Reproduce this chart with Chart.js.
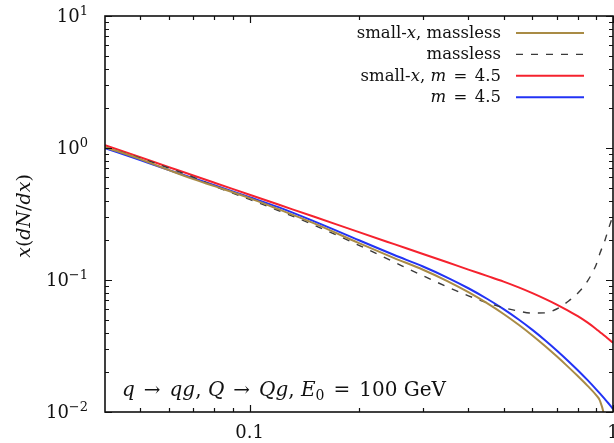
<!DOCTYPE html>
<html>
<head>
<meta charset="utf-8">
<script src="https://cdn.jsdelivr.net/npm/chart.js@4"></script>
<style>
  html, body { margin: 0; padding: 0; background: #fff; }
  #wrap { width: 614px; height: 443px; }
</style>
</head>
<body>
<div id="wrap"><canvas id="chart" width="614" height="443"></canvas></div>
<script>
// values (log-log axes)
const xValues = [0.04, 0.05, 0.06, 0.07, 0.08, 0.1, 0.12, 0.15, 0.2, 0.25, 0.3, 0.35, 0.4, 0.45, 0.5, 0.55, 0.6, 0.65, 0.7, 0.75, 0.8, 0.85, 0.9, 0.92, 0.95, 0.97, 1.0];
const smallXMassless = [1.016, 0.824, 0.680, 0.581, 0.514, 0.417, 0.344, 0.2695, 0.1901, 0.1466, 0.1196, 0.0982, 0.0809, 0.0668, 0.0553, 0.0458, 0.0380, 0.0316, 0.0264, 0.02217, 0.01872, 0.01585, 0.01335, 0.01222, 0.0087, 0.005, 0.001];
const massless = [1.016, 0.838, 0.704, 0.602, 0.514, 0.408, 0.336, 0.2615, 0.183, 0.1365, 0.1076, 0.0887, 0.0759, 0.0673, 0.0617, 0.0581, 0.0562, 0.0564, 0.0603, 0.0684, 0.0794, 0.0977, 0.1318, 0.1585, 0.1995, 0.240, 0.309];
const smallXMass = [1.048, 0.850, 0.715, 0.619, 0.546, 0.4425, 0.3728, 0.3024, 0.2303, 0.1868, 0.1575, 0.1362, 0.1199, 0.1074, 0.0973, 0.0880, 0.0796, 0.0720, 0.0652, 0.0589, 0.0532, 0.0477, 0.0424, 0.0404, 0.0377, 0.0359, 0.0334];
const massive = [0.998, 0.810, 0.680, 0.591, 0.523, 0.4243, 0.3563, 0.2791, 0.2002, 0.1547, 0.1266, 0.1044, 0.0866, 0.0721, 0.0602, 0.0502, 0.0419, 0.0350, 0.02927, 0.0246, 0.02073, 0.0175, 0.01479, 0.01382, 0.0125, 0.0117, 0.01055];

// legend text, split in roman ('r') and italic math ('i') pieces
const seriesLabels = [
  [['small-', 'r'], ['x', 'i'], [', massless', 'r']],
  [['massless', 'r']],
  [['small-', 'r'], ['x', 'i'], [', ', 'r'], ['m', 'i'], ['=', 'op'], ['4.5', 'r']],
  [['m', 'i'], ['=', 'op'], ['4.5', 'r']]
];
const annotation = [['q', 'i'], ['\u2192', 'op'], ['qg', 'i'], [', ', 'r'], ['Q', 'i'], ['\u2192', 'op'], ['Qg', 'i'], [', ', 'r'], ['E', 'i'], ['0', 'sub'], ['=', 'op'], ['100 GeV', 'r']];
const yTitle = [['x', 'i'], ['(', 'r'], ['dN', 'i'], ['/', 'r'], ['dx', 'i'], [')', 'r']];

// axis ticks
const xMin = 0.04, xMax = 1;
const yMin = 0.01, yMax = 10;
const xMajorTicks = [0.1, 1];
const xTickLabels = ['0.1', '1'];
const xMinorTicks = [0.05, 0.06, 0.07, 0.08, 0.09, 0.2, 0.3, 0.4, 0.5, 0.6, 0.7, 0.8, 0.9];
const yMajorTicks = [0.01, 0.1, 1, 10];
const yTickExponents = ['\u22122', '\u22121', '0', '1'];
const yMinorMantissas = [2, 3, 4, 5, 6, 7, 8, 9];

const serif = '"DejaVu Serif", "Liberation Serif", serif';

function fontOf(style, size) {
  return (style === 'i' ? 'italic ' : '') + size + 'px ' + serif;
}

// draws a line of mixed roman / italic / sub / sup pieces; 'op' gets math spacing
function drawRich(ctx, parts, x, y, align, size) {
  const items = parts.map(([text, style]) => {
    const s = (style === 'sup' || style === 'sub') ? Math.round(size * 0.7) : size;
    ctx.font = fontOf(style, s);
    const pad = style === 'op' ? size * 0.45 : 0;
    return { text, style, s, pad, w: ctx.measureText(text).width + 2 * pad };
  });
  const total = items.reduce((a, it) => a + it.w, 0);
  let cx = align === 'right' ? x - total : align === 'center' ? x - total / 2 : x;
  for (const it of items) {
    ctx.font = fontOf(it.style, it.s);
    const dy = it.style === 'sup' ? -size * 0.4 : it.style === 'sub' ? size * 0.22 : 0;
    ctx.fillText(it.text, cx + it.pad, y + dy);
    cx += it.w;
  }
}

const framePlugin = {
  id: 'frame',
  afterDraw(chart) {
    const { ctx, chartArea: a, scales: { x, y } } = chart;
    ctx.save();
    ctx.strokeStyle = '#111';
    ctx.fillStyle = '#111';
    ctx.textAlign = 'left';
    ctx.textBaseline = 'alphabetic';

    // inward ticks on all four sides
    ctx.lineWidth = 1.2;
    const xTick = (v, len) => {
      const px = Math.round(x.getPixelForValue(v)) + 0.5;
      ctx.beginPath();
      ctx.moveTo(px, a.bottom); ctx.lineTo(px, a.bottom - len);
      ctx.moveTo(px, a.top); ctx.lineTo(px, a.top + len);
      ctx.stroke();
    };
    const yTick = (v, len) => {
      const py = Math.round(y.getPixelForValue(v)) + 0.5;
      ctx.beginPath();
      ctx.moveTo(a.left, py); ctx.lineTo(a.left + len, py);
      ctx.moveTo(a.right, py); ctx.lineTo(a.right - len, py);
      ctx.stroke();
    };
    xMinorTicks.forEach(v => xTick(v, 4));
    xMajorTicks.forEach(v => xTick(v, 7));
    yMajorTicks.forEach(v => yTick(v, 7));
    yMajorTicks.slice(0, -1).forEach(d => yMinorMantissas.forEach(m => yTick(m * d, 4)));

    // frame
    ctx.lineWidth = 1.6;
    ctx.strokeRect(a.left, a.top, a.right - a.left, a.bottom - a.top);

    // tick labels
    yMajorTicks.forEach((v, i) => {
      drawRich(ctx, [['10', 'r'], [yTickExponents[i], 'sup']], 88, y.getPixelForValue(v) + 6, 'right', 18);
    });
    xMajorTicks.forEach((v, i) => {
      drawRich(ctx, [[xTickLabels[i], 'r']], x.getPixelForValue(v), 438, 'center', 18);
    });

    // y axis title
    ctx.save();
    ctx.translate(30, 216);
    ctx.rotate(-Math.PI / 2);
    drawRich(ctx, yTitle, 0, 0, 'center', 19);
    ctx.restore();

    // legend: text on the left, line sample on the right
    chart.data.datasets.forEach((ds, i) => {
      const rowY = 33 + i * 21.4;
      ctx.fillStyle = '#111';
      drawRich(ctx, seriesLabels[i], 501, rowY + 5, 'right', 16.5);
      ctx.beginPath();
      ctx.strokeStyle = ds.borderColor;
      ctx.lineWidth = ds.borderWidth;
      ctx.setLineDash(ds.borderDash || []);
      ctx.moveTo(516, rowY); ctx.lineTo(584, rowY);
      ctx.stroke();
      ctx.setLineDash([]);
    });

    // process annotation
    ctx.fillStyle = '#111';
    drawRich(ctx, annotation, 122, 396, 'left', 20);
    ctx.restore();
  }
};

const toPoints = ys => xValues.map((v, i) => ({ x: v, y: ys[i] }));

new Chart(document.getElementById('chart'), {
  type: 'line',
  data: {
    datasets: [
      { label: 'small-x, massless', data: toPoints(smallXMassless), borderColor: '#a98b45', borderWidth: 2 },
      { label: 'massless', data: toPoints(massless), borderColor: '#3a3a3a', borderWidth: 1.4, borderDash: [7, 8] },
      { label: 'small-x, m = 4.5', data: toPoints(smallXMass), borderColor: '#f5222e', borderWidth: 2 },
      { label: 'm = 4.5', data: toPoints(massive), borderColor: '#2233f5', borderWidth: 2 }
    ]
  },
  options: {
    responsive: false,
    animation: false,
    layout: { padding: { left: 105, top: 16, right: 1, bottom: 31 } },
    elements: { point: { radius: 0 }, line: { cubicInterpolationMode: 'monotone' } },
    datasets: { line: { clip: 0 } },
    scales: {
      x: { type: 'logarithmic', min: xMin, max: xMax, display: false },
      y: { type: 'logarithmic', min: yMin, max: yMax, display: false }
    },
    plugins: { legend: { display: false }, tooltip: { enabled: false } }
  },
  plugins: [framePlugin]
});
</script>
</body>
</html>
